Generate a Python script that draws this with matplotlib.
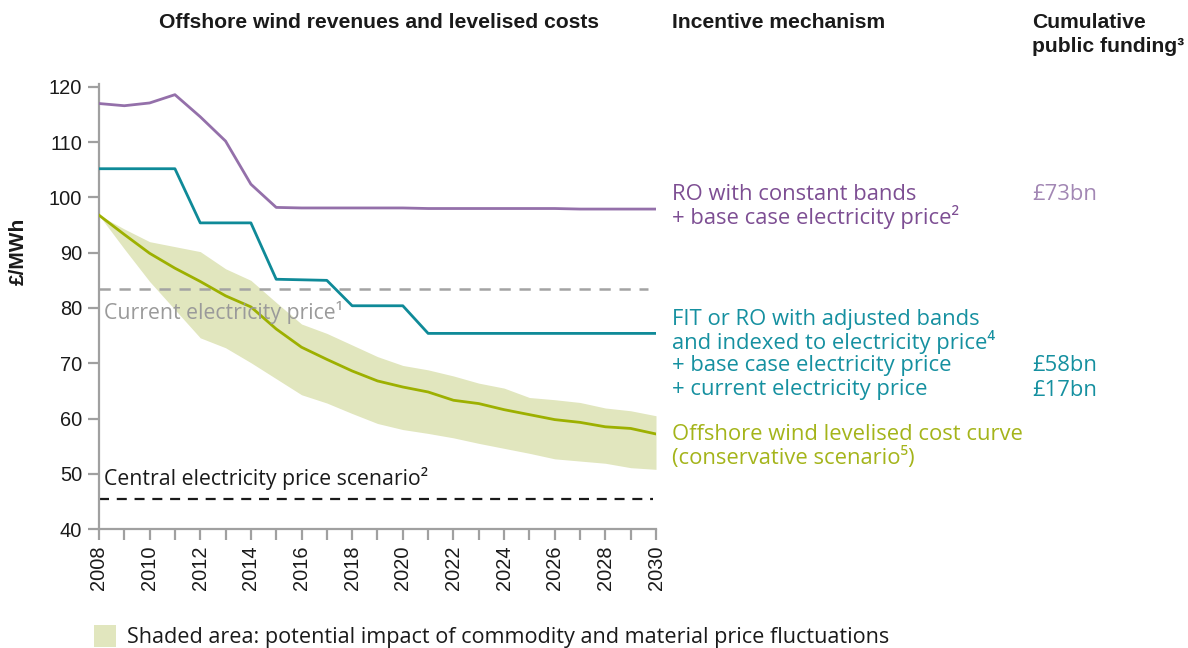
import numpy as np
import matplotlib
matplotlib.use("Agg")
import matplotlib.pyplot as plt
from matplotlib.patches import Rectangle

# data
years = list(range(2008, 2031))
ro_constant = [117.0, 116.6, 117.1, 118.6, 114.6, 110.2, 102.4, 98.2, 98.1, 98.1, 98.1, 98.1,
               98.1, 98.0, 98.0, 98.0, 98.0, 98.0, 98.0, 97.9, 97.9, 97.9, 97.9]
fit_adjusted = [105.2, 105.2, 105.2, 105.2, 95.4, 95.4, 95.4, 85.2, 85.1, 85.0, 80.4, 80.4,
                80.4, 75.4, 75.4, 75.4, 75.4, 75.4, 75.4, 75.4, 75.4, 75.4, 75.4]
lcoe = [96.8, 93.3, 89.9, 87.2, 84.8, 82.2, 80.2, 76.2, 72.9, 70.7, 68.6, 66.8,
        65.7, 64.8, 63.3, 62.7, 61.6, 60.7, 59.8, 59.3, 58.5, 58.2, 57.2]
lcoe_high = [96.8, 94.3, 92.0, 91.1, 90.2, 87.1, 85.0, 81.0, 77.1, 75.4, 73.3, 71.2,
             69.6, 68.8, 67.7, 66.4, 65.5, 63.8, 63.4, 62.9, 61.9, 61.4, 60.5]
lcoe_low = [96.8, 90.7, 84.8, 79.7, 74.6, 72.8, 70.1, 67.2, 64.3, 62.8, 60.9, 59.1,
            58.0, 57.3, 56.5, 55.5, 54.6, 53.7, 52.7, 52.3, 51.9, 51.1, 50.8]
current_price = 83.4
central_price = 45.5
yticks = list(range(40, 121, 10))
xlabels = [str(y) if y % 2 == 0 else '' for y in years]

purple = '#9470aa'
teal = '#0f8a98'
green = '#9db000'
band = '#e1e6be'
grey = '#a3a3a3'
spine = '#a0a0a0'

plt.rcParams['font.family'] = ['Liberation Sans', 'DejaVu Sans']
txtfont = ['Open Sans', 'DejaVu Sans']
fs = 15.8

fig = plt.figure(figsize=(11.88, 6.48), dpi=100)
ax = fig.add_axes([0.0833, 0.1836, 0.4689, 0.6865])

ax.fill_between(years, lcoe_low, lcoe_high, color=band, lw=0, zorder=1)
ax.plot(years, lcoe, color=green, lw=2.0, zorder=3)
ax.plot(years, fit_adjusted, color=teal, lw=2.0, zorder=3)
ax.plot(years, ro_constant, color=purple, lw=2.0, zorder=3)
ax.hlines(current_price, years[0], years[-1] - 0.3, colors=grey, lw=1.8,
          linestyles=(0, (4.5, 3.5)), zorder=2)
ax.hlines(central_price, years[0], years[-1] - 0.1, colors='#1a1a1a', lw=1.6,
          linestyles=(0, (4.5, 3.5)), zorder=2)

ax.set_xlim(years[0], years[-1])
ax.set_ylim(40, 120.5)
ax.set_yticks(yticks)
ax.set_xticks(years)
ax.set_xticklabels(xlabels, rotation=90)
for s in ['top', 'right']:
    ax.spines[s].set_visible(False)
for s in ['left', 'bottom']:
    ax.spines[s].set_color(spine)
    ax.spines[s].set_linewidth(1.6)
ax.tick_params(which='both', direction='out', length=8, width=1.6, color=spine,
               labelsize=14.4, labelcolor='#1a1a1a', pad=4)

ax.text(2008.2, current_price - 4.2, 'Current electricity price¹', color='#9a9a9a',
        fontsize=15.3, va='center', family=txtfont)
ax.text(2008.2, central_price + 3.6, 'Central electricity price scenario²', color='#1a1a1a',
        fontsize=15.3, va='center', family=txtfont)

W, H = 1188.0, 648.0
def ftext(px, py, s, **kw):
    fig.text(px / W, 1 - py / H, s, va='center', **kw)

ftext(18, 251, '£/MWh', rotation=90, ha='center', fontsize=15, fontweight='bold', color='#1a1a1a')
ftext(379, 23, 'Offshore wind revenues and levelised costs', ha='center', fontsize=15.2,
      fontweight='bold', color='#1a1a1a')
ftext(672, 23, 'Incentive mechanism', fontsize=15.2, fontweight='bold', color='#1a1a1a')
ftext(1032, 23, 'Cumulative', fontsize=15.2, fontweight='bold', color='#1a1a1a')
ftext(1032, 47, 'public funding³', fontsize=15.2, fontweight='bold', color='#1a1a1a')

ftext(672, 194, 'RO with constant bands', fontsize=fs, color='#7d4e93', family=txtfont)
ftext(672, 217, '+ base case electricity price²', fontsize=fs, color='#7d4e93', family=txtfont)
ftext(1032, 194, '£73bn', fontsize=fs, color='#a287b4', family=txtfont)

ftext(672, 319, 'FIT or RO with adjusted bands', fontsize=fs, color='#1590a0', family=txtfont)
ftext(672, 342, 'and indexed to electricity price⁴', fontsize=fs, color='#1590a0', family=txtfont)
ftext(672, 366, '+ base case electricity price', fontsize=fs, color='#1590a0', family=txtfont)
ftext(672, 390, '+ current electricity price', fontsize=fs, color='#1590a0', family=txtfont)
ftext(1032, 366, '£58bn', fontsize=fs, color='#1590a0', family=txtfont)
ftext(1032, 390, '£17bn', fontsize=fs, color='#1590a0', family=txtfont)

ftext(672, 435, 'Offshore wind levelised cost curve', fontsize=fs, color='#a4b41a', family=txtfont)
ftext(672, 458, '(conservative scenario⁵)', fontsize=fs, color='#a4b41a', family=txtfont)

fig.patches.append(Rectangle((94 / W, 1 - 647 / H), 22 / W, 22 / H, transform=fig.transFigure,
                             color=band, lw=0))
ftext(127, 637, 'Shaded area: potential impact of commodity and material price fluctuations',
      fontsize=15.6, color='#1a1a1a', family=txtfont)

fig.savefig('out.png', dpi=100)
